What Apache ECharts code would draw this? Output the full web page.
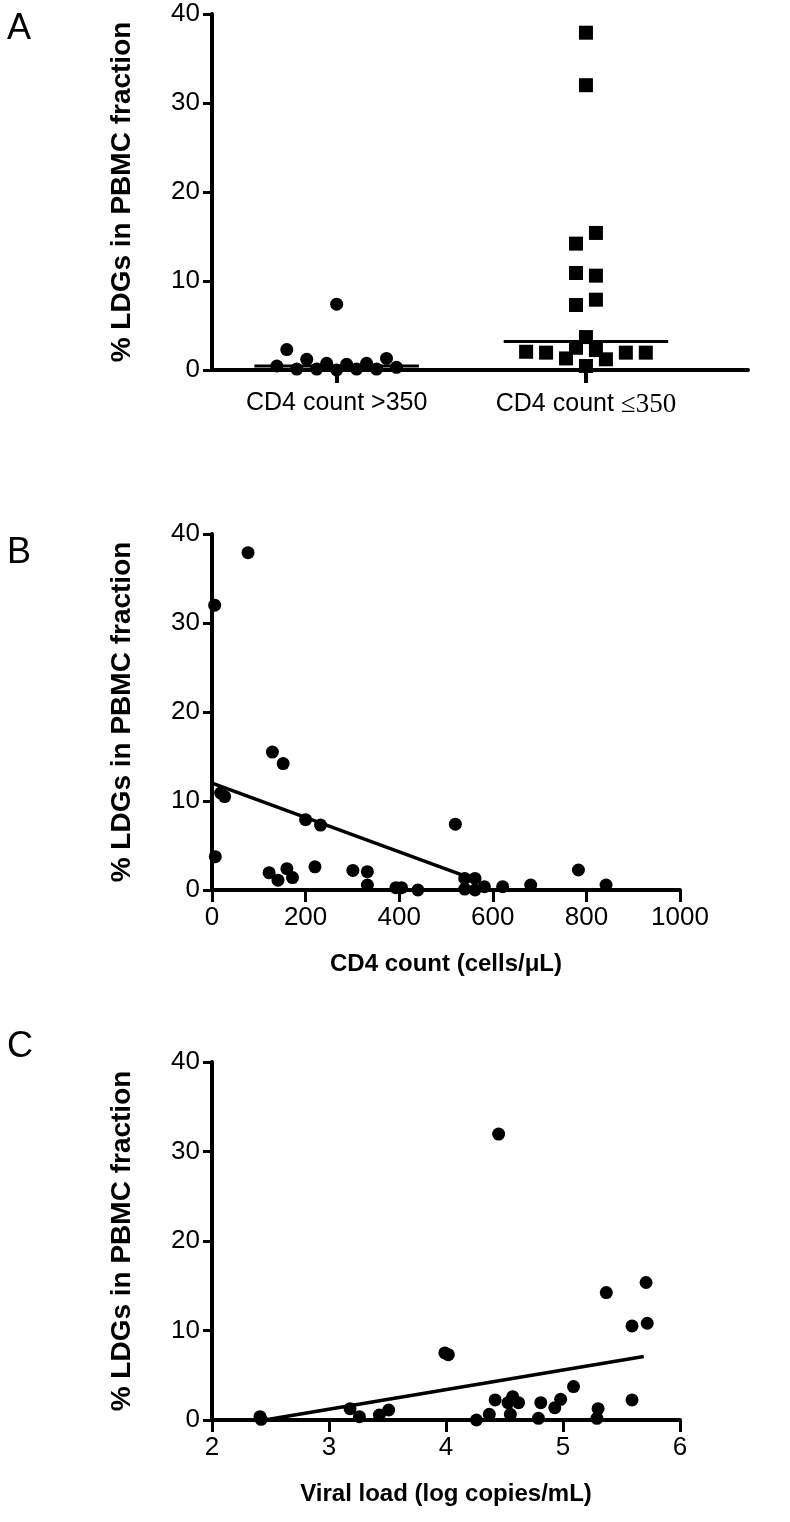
<!DOCTYPE html>
<html>
<head>
<meta charset="utf-8">
<script src="https://cdn.jsdelivr.net/npm/echarts@6/dist/echarts.min.js"></script>
<style>
  html, body { margin: 0; padding: 0; background: #fff; }
  #chart { width: 790px; height: 1522px; }
</style>
</head>
<body>
<div id="chart"></div>
<script>
// panel A: column scatter by CD4 group
const groupLabels = ['CD4 count >350', 'CD4 count ≤350']
const highLDG = [0.45, 2.3, 0.1, 1.2, 0.1, 0.75, 7.4, 0, 0.64, 0.1, 0.75, 0.1, 1.3, 0.3]
const highJitter = [-0.24, -0.2, -0.16, -0.12, -0.08, -0.04, 0, 0, 0.04, 0.08, 0.12, 0.16, 0.2, 0.24]
const lowLDG = [2.05, 1.95, 1.3, 14.2, 10.9, 7.3, 2.5, 37.9, 32.0, 3.7, 0.45, 15.4, 10.6, 7.9, 2.25, 1.2, 1.95, 1.95]
const lowJitter = [-0.24, -0.16, -0.08, -0.04, -0.04, -0.04, -0.04, 0, 0, 0, 0, 0.04, 0.04, 0.04, 0.04, 0.08, 0.16, 0.24]
const groupMedians = [0.45, 3.2]

// panel B: CD4 count vs LDGs
const cd4Count = [77, 5.7, 129, 152, 18.5, 27, 200, 232, 520, 7, 122, 141, 160, 172, 220, 301, 332, 332, 393, 405, 440, 540, 540, 562, 562, 582, 621, 681, 783, 842]
const cd4LDG = [37.9, 32.0, 15.5, 14.2, 10.9, 10.5, 7.9, 7.3, 7.4, 3.75, 1.95, 1.1, 2.4, 1.4, 2.6, 2.2, 2.06, 0.56, 0.26, 0.26, 0, 1.3, 0.1, 1.3, 0, 0.37, 0.37, 0.56, 2.25, 0.56]
const cd4Fit = [[0, 12.0], [550, 1.4]]

// panel C: viral load vs LDGs
const viralLoad = [4.45, 5.71, 5.37, 5.72, 5.59, 3.99, 4.02, 5.09, 4.42, 4.57, 4.53, 4.62, 4.81, 4.98, 4.93, 5.59, 5.30, 5.29, 3.18, 3.26, 3.43, 3.51, 2.41, 2.42, 4.26, 4.37, 4.55, 4.79]
const vlLDG = [31.95, 15.36, 14.24, 10.81, 10.51, 7.5, 7.3, 3.73, 2.24, 2.61, 1.94, 1.94, 1.94, 2.31, 1.38, 2.24, 1.27, 0.19, 1.27, 0.37, 0.56, 1.12, 0.37, 0.07, 0, 0.63, 0.63, 0.19]
const vlFit = [[2.45, 0], [5.69, 7.1]]

const yTitle = '% LDGs in PBMC fraction'
const font = 'Liberation Sans, Arial, sans-serif'

const chart = echarts.init(document.getElementById('chart'))

const axisLine = { show: true, onZero: false, lineStyle: { color: '#000', width: 4 } }

function yAxisFor(gridIndex) {
  return {
    gridIndex,
    type: 'value',
    min: 0,
    max: 40,
    interval: 10,
    axisLine,
    axisTick: { show: true, length: 9, lineStyle: { color: '#000', width: 3 } },
    axisLabel: { color: '#000', fontSize: 26, fontFamily: font, margin: 12 },
    splitLine: { show: false },
    name: yTitle,
    nameLocation: 'middle',
    nameGap: 76,
    nameTextStyle: { color: '#000', fontSize: 28, fontWeight: 'bold', fontFamily: font }
  }
}

function xAxisFor(gridIndex, min, max, interval, title) {
  return {
    gridIndex,
    type: 'value',
    min,
    max,
    interval,
    axisLine,
    axisTick: { show: true, length: 12, lineStyle: { color: '#000', width: 3 } },
    axisLabel: { color: '#000', fontSize: 26, fontFamily: font, margin: 15, formatter: v => String(v) },
    splitLine: { show: false },
    name: title,
    nameLocation: 'middle',
    nameGap: 62,
    nameTextStyle: { color: '#000', fontSize: 24, fontWeight: 'bold', fontFamily: font }
  }
}

const dot = { type: 'scatter', symbol: 'circle', symbolSize: 13, itemStyle: { color: '#000', opacity: 1 }, clip: false, z: 5 }
const fitLine = { type: 'line', symbol: 'none', lineStyle: { color: '#000', width: 3.5 }, z: 4 }
const letter = { fontSize: 36, fontWeight: 'normal', fontFamily: font, color: '#000' }

// the "≤350" part of the second group label is set in a serif face in the original
function groupLabel(v) {
  const text = groupLabels[Math.round(v) - 1] || ''
  const cut = text.indexOf('≤')
  if (cut < 0) return '{s|' + text + '}'
  return '{s|' + text.slice(0, cut) + '}{r|' + text.slice(cut) + '}'
}

const option = {
  backgroundColor: '#fff',
  animation: false,
  title: [
    { text: 'A', left: 7, top: 11, padding: 0, textStyle: letter },
    { text: 'B', left: 7, top: 535, padding: 0, textStyle: letter },
    { text: 'C', left: 7, top: 1029, padding: 0, textStyle: letter }
  ],
  grid: [
    { left: 212, top: 14, width: 536, height: 356 },
    { left: 212, top: 534, width: 468, height: 356 },
    { left: 212, top: 1062, width: 468, height: 358 }
  ],
  xAxis: [
    {
      gridIndex: 0,
      type: 'value',
      min: 0.5,
      max: 2.65,
      axisLine,
      axisTick: { show: true, length: 13, customValues: [1, 2], lineStyle: { color: '#000', width: 4 } },
      axisLabel: {
        customValues: [1, 2],
        margin: 21,
        color: '#000',
        fontSize: 25,
        fontFamily: font,
        formatter: groupLabel,
        rich: {
          s: { fontSize: 25, fontFamily: font, color: '#000' },
          r: { fontSize: 27, fontFamily: 'Liberation Serif, Times New Roman, serif', color: '#000' }
        }
      },
      splitLine: { show: false }
    },
    xAxisFor(1, 0, 1000, 200, 'CD4 count (cells/μL)'),
    xAxisFor(2, 2, 6, 1, 'Viral load (log copies/mL)')
  ],
  yAxis: [yAxisFor(0), yAxisFor(1), yAxisFor(2)],
  series: [
    {
      ...dot,
      xAxisIndex: 0, yAxisIndex: 0,
      data: highLDG.map((v, i) => [1 + highJitter[i], v])
    },
    {
      ...dot,
      symbol: 'rect',
      symbolSize: 14,
      xAxisIndex: 0, yAxisIndex: 0,
      data: lowLDG.map((v, i) => [2 + lowJitter[i], v])
    },
    ...groupMedians.map((m, i) => ({
      ...fitLine,
      lineStyle: { color: '#000', width: 3 },
      xAxisIndex: 0, yAxisIndex: 0,
      data: [[i + 1 - 0.33, m], [i + 1 + 0.33, m]]
    })),
    {
      ...dot,
      xAxisIndex: 1, yAxisIndex: 1,
      data: cd4Count.map((x, i) => [x, cd4LDG[i]])
    },
    { ...fitLine, xAxisIndex: 1, yAxisIndex: 1, data: cd4Fit },
    {
      ...dot,
      xAxisIndex: 2, yAxisIndex: 2,
      data: viralLoad.map((x, i) => [x, vlLDG[i]])
    },
    { ...fitLine, xAxisIndex: 2, yAxisIndex: 2, data: vlFit }
  ]
}

chart.setOption(option)
</script>
</body>
</html>
